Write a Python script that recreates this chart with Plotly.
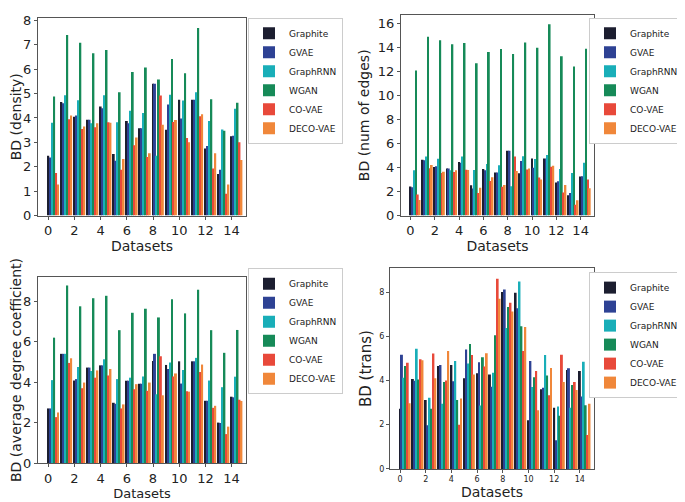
import plotly.graph_objects as go

datasets = list(range(15))
methods = ["Graphite", "GVAE", "GraphRNN", "WGAN", "CO-VAE", "DECO-VAE"]
colors = ["#1c1e30", "#2e4294", "#19aeb8", "#168a58", "#e8493a", "#f0873a"]

density = {
    "Graphite": [2.45, 4.65, 4.05, 3.93, 4.47, 2.52, 3.88, 3.58, 5.40, 3.52, 4.75, 4.75, 2.75, 1.70, 3.25],
    "GVAE":     [2.38, 4.60, 4.10, 3.93, 4.40, 2.25, 3.78, 3.58, 5.40, 4.55, 3.98, 4.75, 2.85, 1.88, 3.27],
    "GraphRNN": [3.80, 4.93, 4.73, 3.78, 4.93, 3.82, 4.30, 4.20, 2.45, 4.95, 4.72, 5.05, 3.88, 3.53, 4.38],
    "WGAN":     [4.88, 7.40, 7.08, 6.65, 6.78, 5.05, 5.88, 6.07, 5.58, 6.42, 5.83, 7.68, 4.77, 3.48, 4.62],
    "CO-VAE":   [1.75, 3.95, 3.55, 3.62, 3.82, 1.88, 2.88, 2.40, 4.92, 3.83, 3.18, 4.07, 1.93, 0.90, 3.00],
    "DECO-VAE": [1.27, 4.10, 3.65, 3.78, 3.80, 2.32, 3.20, 2.55, 3.72, 3.92, 3.00, 4.15, 2.55, 1.27, 2.28],
}

edges = {
    "Graphite": [2.42, 4.65, 4.05, 3.93, 4.47, 2.52, 3.88, 3.58, 5.40, 3.52, 4.75, 4.75, 2.75, 1.70, 3.25],
    "GVAE":     [2.36, 4.60, 4.10, 3.93, 4.40, 2.25, 3.78, 3.58, 5.40, 4.55, 3.98, 4.75, 2.85, 1.88, 3.27],
    "GraphRNN": [3.78, 4.93, 4.73, 3.78, 4.93, 3.80, 4.30, 4.20, 2.45, 4.95, 4.72, 5.05, 3.88, 3.55, 4.40],
    "WGAN":     [12.08, 14.88, 14.60, 14.26, 14.37, 12.68, 13.62, 13.86, 13.46, 14.40, 13.97, 15.92, 13.27, 12.41, 13.89],
    "CO-VAE":   [1.75, 3.95, 3.55, 3.62, 3.82, 1.88, 2.88, 2.40, 4.92, 3.83, 3.18, 4.07, 1.93, 0.90, 3.00],
    "DECO-VAE": [1.30, 4.22, 3.65, 3.78, 3.80, 2.32, 3.20, 2.55, 3.72, 3.92, 3.00, 4.15, 2.55, 1.27, 2.28],
}

avg_degree = {
    "Graphite": [2.70, 5.40, 4.08, 4.72, 4.83, 2.98, 4.07, 3.92, 5.05, 4.85, 5.03, 5.03, 3.08, 2.00, 3.28],
    "GVAE":     [2.70, 5.40, 4.15, 4.72, 4.83, 2.93, 4.07, 3.92, 5.40, 4.65, 3.93, 5.03, 3.08, 1.98, 3.25],
    "GraphRNN": [4.10, 5.40, 4.75, 4.55, 5.13, 4.15, 4.22, 4.28, 3.40, 4.97, 4.60, 5.20, 4.08, 3.75, 4.27],
    "WGAN":     [6.20, 8.78, 7.75, 8.15, 8.27, 6.57, 7.43, 7.63, 7.20, 8.10, 7.40, 8.57, 6.57, 5.45, 6.58],
    "CO-VAE":   [2.27, 4.95, 3.70, 4.22, 4.33, 2.70, 3.65, 3.57, 5.28, 4.28, 3.55, 4.50, 2.73, 1.43, 3.13],
    "DECO-VAE": [2.50, 5.18, 3.98, 4.58, 4.65, 2.90, 3.90, 3.98, 3.35, 4.43, 3.53, 4.87, 2.83, 1.80, 3.07],
}

trans = {
    "Graphite": [2.72, 4.07, 3.12, 4.65, 4.70, 4.10, 4.33, 4.27, 8.00, 7.97, 2.20, 3.60, 2.77, 4.47, 4.43],
    "GVAE":     [5.16, 3.99, 1.98, 4.70, 3.97, 5.40, 4.83, 3.72, 8.12, 7.27, 4.88, 3.67, 1.30, 4.55, 3.28],
    "GraphRNN": [4.12, 5.44, 3.22, 2.95, 4.88, 4.77, 2.87, 4.35, 6.38, 8.48, 3.70, 5.15, 2.82, 2.77, 4.85],
    "WGAN":     [4.66, 4.04, 2.72, 3.93, 3.12, 5.65, 5.05, 6.05, 7.32, 6.45, 4.15, 4.22, 2.40, 3.80, 2.88],
    "CO-VAE":   [4.80, 4.96, 5.22, 4.00, 2.00, 5.15, 4.63, 8.60, 7.52, 5.33, 4.43, 3.33, 5.17, 3.93, 1.53],
    "DECO-VAE": [2.97, 4.92, 4.10, 5.33, 3.18, 4.27, 5.23, 7.70, 7.12, 6.42, 2.65, 4.57, 3.93, 3.57, 2.95],
}

W = 685
H = 502
FONT = "DejaVu Sans"
bar_w = 0.15

panels = [
    dict(data=density, title="BD (density)", xdom=[30 / W, 238 / W], ydom=[1 - 208 / H, 1 - 5 / H],
         yrange=[0, 8.1], ydtick=1, tickfont=13, ytitlefont=14, xtitlefont=14,
         legend=dict(x=240 / W, y=1 - 5 / H)),
    dict(data=edges, title="BD (num of edges)", xdom=[393 / W, 586 / W], ydom=[1 - 208 / H, 1 - 2 / H],
         yrange=[0, 16.7], ydtick=2, tickfont=13, ytitlefont=14, xtitlefont=14,
         legend=dict(x=581 / W, y=1 - 5 / H)),
    dict(data=avg_degree, title="BD (average degree coefficient)", xdom=[30 / W, 238 / W], ydom=[1 - 462 / H, 1 - 271 / H],
         yrange=[0, 9.2], ydtick=2, tickfont=13, ytitlefont=14, xtitlefont=13,
         legend=dict(x=240 / W, y=1 - 262 / H)),
    dict(data=trans, title="BD (trans)", xdom=[382 / W, 586 / W], ydom=[1 - 468 / H, 1 - 262 / H],
         yrange=[0, 9.08], ydtick=2, tickfont=8, ytitlefont=15, xtitlefont=14,
         legend=dict(x=581 / W, y=1 - 266 / H)),
]

fig = go.Figure()
layout = dict(
    width=W, height=H,
    margin=dict(l=0, r=0, t=0, b=0),
    paper_bgcolor="white", plot_bgcolor="white",
    font=dict(family=FONT, color="#222"),
    barmode="overlay",
)

for p_i, p in enumerate(panels):
    n = p_i + 1
    xa = "x" if n == 1 else f"x{n}"
    ya = "y" if n == 1 else f"y{n}"
    lg = "legend" if n == 1 else f"legend{n}"
    for m_i, m in enumerate(methods):
        fig.add_trace(go.Bar(
            x=datasets, y=p["data"][m], name=m,
            marker=dict(color=colors[m_i], line=dict(width=0)),
            width=bar_w, offset=-bar_w / 2 + m_i * bar_w,
            xaxis=xa, yaxis=ya, legend=lg, opacity=1,
        ))
    axis_common = dict(showline=True, linecolor="#555", linewidth=1, mirror=True,
                       showgrid=False, zeroline=False, ticks="outside", ticklen=3,
                       tickcolor="#555", tickfont=dict(size=p["tickfont"], family=FONT, color="#222"))
    layout["xaxis" if n == 1 else f"xaxis{n}"] = dict(
        domain=p["xdom"], anchor=ya, range=[-0.78, 15.1], tickmode="array",
        tickvals=list(range(0, 15, 2)), ticktext=[str(v) for v in range(0, 15, 2)],
        title=dict(text="Datasets", font=dict(size=p["xtitlefont"], family=FONT), standoff=0),
        **axis_common)
    layout["yaxis" if n == 1 else f"yaxis{n}"] = dict(
        domain=p["ydom"], anchor=xa, range=p["yrange"], dtick=p["ydtick"], tick0=0,
        title=dict(text=p["title"], font=dict(size=p["ytitlefont"], family=FONT), standoff=4),
        **axis_common)
    layout[lg] = dict(x=p["legend"]["x"], y=p["legend"]["y"], xanchor="left", yanchor="top",
                      bgcolor="white", bordercolor="#ccc", borderwidth=1, itemwidth=30,
                      font=dict(size=9, family=FONT, color="#222"), tracegroupgap=0)

fig.update_layout(**layout)
fig.write_html("out.html")
